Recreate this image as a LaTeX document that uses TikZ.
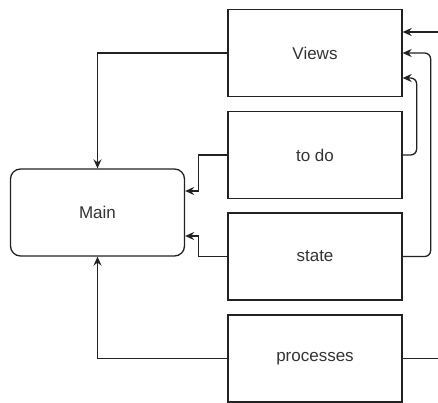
\documentclass[tikz,border=0pt]{standalone}
\usepackage{fontspec}
\setmainfont{Liberation Sans}
\usetikzlibrary{arrows.meta, positioning}
\definecolor{ink}{HTML}{222222}
\definecolor{txt}{HTML}{333333}

\begin{document}
\begin{tikzpicture}[
    x=1pt, y=-1pt,
    every node/.style={font=\fontsize{17}{20}\selectfont, text=txt},
    box/.style={draw=ink, line width=1.3pt, minimum width=174pt, minimum height=87pt, inner sep=0pt},
    mainbox/.style={box, rounded corners=10pt},
    arr/.style={draw=ink, line width=1.3pt, -{Stealth[length=9pt, width=8pt, inset=3pt]}},
    wire/.style={draw=ink, line width=1.3pt},
]
\useasboundingbox (0,0) rectangle (438,403);

% ---------------- boxes
\node[box] (views) at (315, 53) {Views};
\node[box] (todo) at (315, 155) {to do};
\node[box] (state) at (315, 256.5) {state};
\node[box] (processes) at (315, 358.5) {processes};
\node[mainbox] (main) at (97.5, 212.5) {Main};

% ---------------- left: into main
\draw[arr] (views.west) -| (main.north);
\draw[arr] (todo.west) -- ++(-29, 0) |- ([yshift=21.5pt]main.east);
\draw[arr] (state.west) -- ++(-29, 0) |- ([yshift=-23.5pt]main.east);
\draw[arr] (processes.west) -| (main.south);

% ---------------- right: back into views
\coordinate (top in) at (438, 32);
\coordinate (bottom out) at (438, 358.5);
\draw[arr] (top in) -- ([yshift=21pt]views.east);
\draw[arr, rounded corners=6pt] (todo.east) -- ++(14, 0) |- ([yshift=-25pt]views.east);
\draw[arr, rounded corners=6pt] (state.east) -- ++(28, 0) |- (views.east);
\draw[wire] (processes.east) -- (bottom out);

\end{tikzpicture}
\end{document}
